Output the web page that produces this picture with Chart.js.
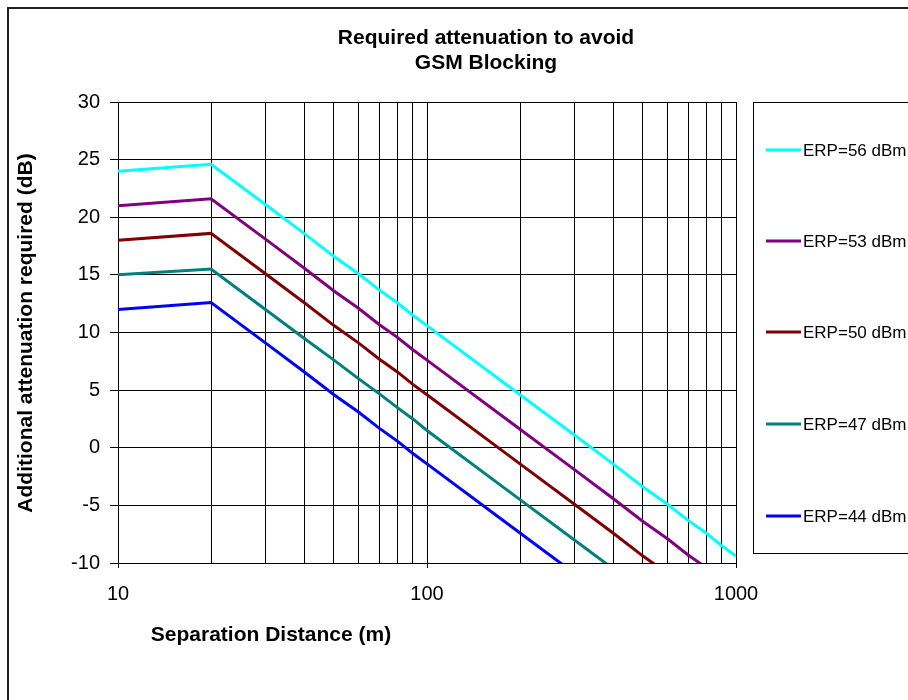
<!DOCTYPE html>
<html>
<head>
<meta charset="utf-8">
<script src="https://cdn.jsdelivr.net/npm/chart.js@4/dist/chart.umd.min.js"></script>
<style>
  html, body { margin: 0; padding: 0; background: #fff; }
  #wrap { width: 908px; height: 700px; position: relative; }
</style>
</head>
<body>
<div id="wrap"><canvas id="chart"></canvas></div>
<script>
// separation distance (m)
var distances = [10, 20, 30, 40, 50, 60, 70, 80, 90, 100, 200, 300, 400, 500, 600, 700, 800, 900, 1000];

// required attenuation (dB) per ERP level
var erp56 = [24, 24.6, 21.1, 18.6, 16.6, 15.1, 13.7, 12.6, 11.5, 10.6, 4.6, 1.1, -1.4, -3.4, -4.9, -6.3, -7.4, -8.5, -9.4];
var erp53 = [21, 21.6, 18.1, 15.6, 13.6, 12.1, 10.7, 9.6, 8.5, 7.6, 1.6, -1.9, -4.4, -6.4, -7.9, -9.3, -10.4, -11.5, -12.4];
var erp50 = [18, 18.6, 15.1, 12.6, 10.6, 9.1, 7.7, 6.6, 5.5, 4.6, -1.4, -4.9, -7.4, -9.4, -10.9, -12.3, -13.4, -14.5, -15.4];
var erp47 = [15, 15.5, 12.0, 9.5, 7.6, 6.0, 4.7, 3.5, 2.5, 1.5, -4.5, -8.0, -10.5, -12.4, -14.0, -15.3, -16.5, -17.5, -18.5];
var erp44 = [12, 12.6, 9.1, 6.6, 4.6, 3.1, 1.7, 0.6, -0.5, -1.4, -7.4, -10.9, -13.4, -15.4, -16.9, -18.3, -19.4, -20.5, -21.4];

var seriesLabels = ['ERP=56 dBm', 'ERP=53 dBm', 'ERP=50 dBm', 'ERP=47 dBm', 'ERP=44 dBm'];
var seriesColors = ['#00FFFF', '#800080', '#800000', '#008080', '#0000FF'];
var seriesValues = [erp56, erp53, erp50, erp47, erp44];

// vertical grid lines (log scale) and the ones that get a label
var xGrid = [10, 20, 30, 40, 50, 60, 70, 80, 90, 100, 200, 300, 400, 500, 600, 700, 800, 900, 1000];
var xLabels = [10, 100, 1000];
var yMin = -10, yMax = 30, yStep = 5;

var FONT = '"Liberation Sans", Arial, sans-serif';

function points(vals) {
  return distances.map(function (d, i) { return { x: d, y: vals[i] }; });
}

function isMajor(v) {
  return xLabels.indexOf(Math.round(v)) !== -1;
}

// titles, outer frame and the boxed legend on the right
var decor = {
  id: 'decor',
  afterDraw: function (chart) {
    var ctx = chart.ctx;
    ctx.save();

    // outer frame (runs off the right and bottom edges)
    ctx.strokeStyle = '#222';
    ctx.lineWidth = 2;
    ctx.strokeRect(8, 8, 1000, 800);

    ctx.fillStyle = '#000';
    ctx.textAlign = 'center';
    ctx.textBaseline = 'middle';
    ctx.font = 'bold 21px ' + FONT;
    ctx.fillText('Required attenuation to avoid', 486, 38);
    ctx.fillText('GSM Blocking', 486, 63);

    ctx.fillText('Separation Distance (m)', 271, 635);

    ctx.save();
    ctx.translate(26, 333);
    ctx.rotate(-Math.PI / 2);
    ctx.fillText('Additional attenuation required (dB)', 0, 0);
    ctx.restore();

    // legend box
    ctx.strokeStyle = '#000';
    ctx.lineWidth = 1;
    ctx.strokeRect(753.5, 102.5, 300, 451);

    var rowY = [150, 241, 332, 424, 516];
    ctx.font = '17px ' + FONT;
    ctx.textAlign = 'left';
    chart.data.datasets.forEach(function (ds, i) {
      ctx.strokeStyle = ds.borderColor;
      ctx.lineWidth = 3;
      ctx.beginPath();
      ctx.moveTo(766, rowY[i]);
      ctx.lineTo(801, rowY[i]);
      ctx.stroke();
      ctx.fillStyle = '#000';
      ctx.fillText(ds.label, 803, rowY[i] + 1);
    });

    ctx.restore();
  }
};

new Chart(document.getElementById('chart'), {
  type: 'line',
  data: {
    datasets: seriesValues.map(function (vals, i) {
      return {
        label: seriesLabels[i],
        data: points(vals),
        borderColor: seriesColors[i],
        backgroundColor: seriesColors[i],
        borderWidth: 3,
        pointRadius: 0,
        tension: 0,
        fill: false,
        clip: 0
      };
    })
  },
  options: {
    responsive: true,
    maintainAspectRatio: false,
    animation: false,
    layout: { padding: { left: 0, top: 102, right: 172, bottom: 0 } },
    plugins: {
      legend: { display: false },
      title: { display: false },
      tooltip: { enabled: false }
    },
    scales: {
      x: {
        type: 'logarithmic',
        min: 10,
        max: 1000,
        afterBuildTicks: function (s) {
          s.ticks = xGrid.map(function (v) { return { value: v, major: isMajor(v) }; });
        },
        afterFit: function (s) { s.height = 137; },
        border: { display: true, color: '#000', width: 1 },
        grid: {
          color: '#000',
          lineWidth: 1,
          tickLength: 5,
          tickColor: function (c) { return c.tick && isMajor(c.tick.value) ? '#000' : 'rgba(0,0,0,0)'; }
        },
        ticks: {
          autoSkip: false,
          maxRotation: 0,
          padding: 14,
          color: '#000',
          font: { family: FONT, size: 20 },
          callback: function (v) { return isMajor(v) ? String(Math.round(v)) : ''; }
        }
      },
      y: {
        min: yMin,
        max: yMax,
        afterFit: function (s) { s.width = 118; },
        border: { display: true, color: '#000', width: 1 },
        grid: { color: '#000', lineWidth: 1, tickLength: 8 },
        ticks: {
          stepSize: yStep,
          padding: 10,
          color: '#000',
          font: { family: FONT, size: 20 }
        }
      }
    }
  },
  plugins: [decor]
});
</script>
</body>
</html>
